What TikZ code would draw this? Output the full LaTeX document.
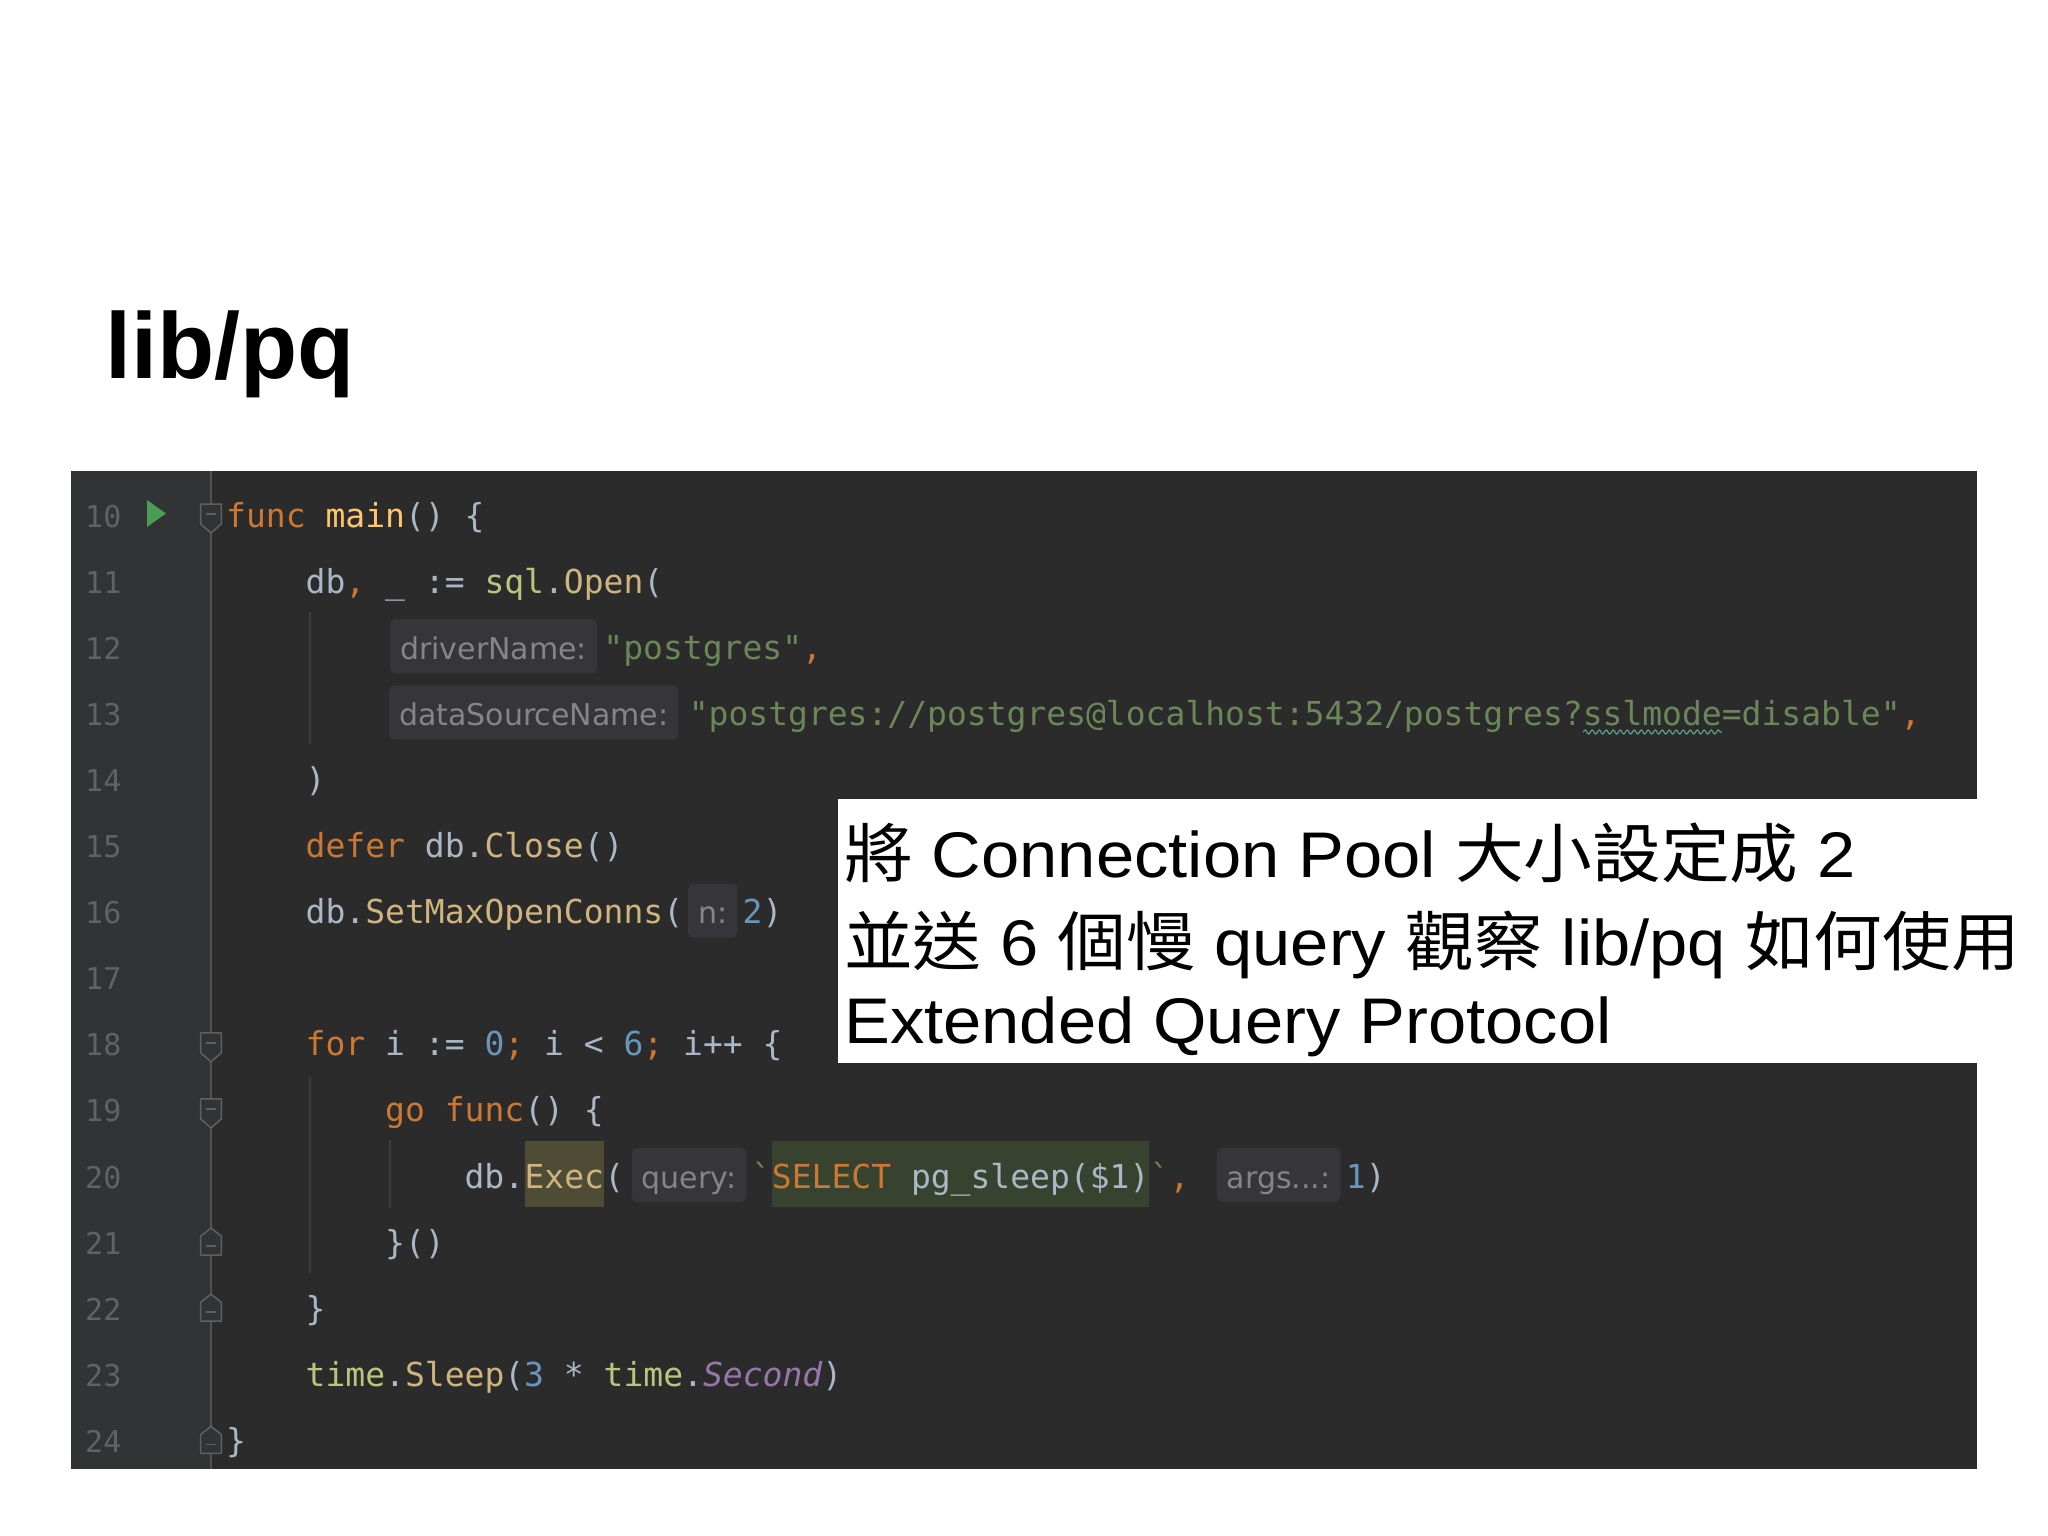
\documentclass[tikz,border=0pt]{standalone}
\usepackage{fontspec}
\usetikzlibrary{decorations.pathmorphing}
\newfontfamily\codefnt{DejaVu Sans Mono}
\newfontfamily\hintfnt{DejaVu Sans}
\newfontfamily\ovfnt{Liberation Sans}
\newfontfamily\zhfnt{Noto Sans CJK TC}
\newcommand\zh[1]{{\zhfnt #1}}
\definecolor{cbg}{HTML}{2B2B2B}
\definecolor{cgut}{HTML}{313335}
\definecolor{cgline}{HTML}{505254}
\definecolor{cguide}{HTML}{3C3C3E}
\definecolor{clnum}{HTML}{606366}
\definecolor{cdef}{HTML}{A9B7C6}
\definecolor{ckw}{HTML}{CC7832}
\definecolor{cfn}{HTML}{FFC66D}
\definecolor{cpkg}{HTML}{BAC47E}
\definecolor{cmeth}{HTML}{D0B47E}
\definecolor{cstr}{HTML}{6A8759}
\definecolor{cnum}{HTML}{6897BB}
\definecolor{cpur}{HTML}{9876AA}
\definecolor{chint}{HTML}{858585}
\definecolor{chintbg}{HTML}{36363A}
\definecolor{cexec}{HTML}{4F4C35}
\definecolor{csql}{HTML}{37432F}
\definecolor{crun}{HTML}{499C54}
\definecolor{cwave}{HTML}{5FA08A}
\definecolor{cfold}{HTML}{5E6163}
\newcommand\K[1]{\textcolor{ckw}{#1}}
\newcommand\M[1]{\textcolor{cmeth}{#1}}
\newcommand\Pk[1]{\textcolor{cpkg}{#1}}
\newcommand\N[1]{\textcolor{cnum}{#1}}
\newcommand\Sx[1]{\textcolor{cstr}{#1}}
\newcommand\mkfolddn[1]{%
  \draw[foldmark] (200.7,#1-23) -- (221.3,#1-23) -- (221.3,#1-3) -- (211,#1+6) -- (200.7,#1-3) -- cycle;
  \draw[foldmark] (206,#1-13) -- (216,#1-13);}
\newcommand\mkfoldup[1]{%
  \draw[foldmark] (200.7,#1+1) -- (221.3,#1+1) -- (221.3,#1-18) -- (211,#1-26) -- (200.7,#1-18) -- cycle;
  \draw[foldmark] (206,#1-8) -- (216,#1-8);}
\tikzset{
  code/.style={inner sep=0pt, anchor=base west, text=cdef, font=\codefnt\fontsize{33}{40}\selectfont},
  lnum/.style={inner sep=0pt, anchor=base west, text=clnum, font=\codefnt\fontsize{30}{36}\selectfont},
  hint/.style={inner xsep=10pt, inner ysep=0pt, anchor=base west, text=chint, fill=chintbg,
    rounded corners=5pt, text height=40pt, text depth=14pt, font=\hintfnt\fontsize{30}{36}\selectfont},
  hl/.style={text height=47pt, text depth=19pt},
  ovl/.style={inner sep=0pt, anchor=base west, text=black, font=\ovfnt\fontsize{64.5}{72}\selectfont},
  titlestyle/.style={inner sep=0pt, anchor=base west, text=black, font=\ovfnt\bfseries\fontsize{93.5}{100}\selectfont},
  foldmark/.style={draw=cfold, fill=cgut, line width=1.5pt, line join=round},
  guide/.style={draw=cguide, line width=1.3pt}
}
\begin{document}
\begin{tikzpicture}[x=1pt,y=-1pt]
\useasboundingbox (0,0) rectangle (2048,1536);
\fill[white] (0,0) rectangle (2048,1536);
% title
\node[titlestyle] (title) at (105,378) {lib/pq};
% editor panel
\fill[cbg] (71,471) rectangle (1977,1469);
\fill[cgut] (71,471) rectangle (211,1469);
\draw[cgline, line width=1.5pt] (211,471) -- (211,1469);
% line numbers
\foreach \n [count=\i from 0] in {10,...,24}
  \node[lnum] (ln\n) at (85,527+\i*66.1) {\n};
% run icon
\fill[crun] (147,500) -- (166,513.5) -- (147,527) -- cycle;
% fold markers
\mkfolddn{527}
\mkfolddn{1055.8}
\mkfolddn{1121.9}
\mkfoldup{1254.1}
\mkfoldup{1320.2}
\mkfoldup{1452.4}
% indent guides
\draw[guide] (310,612) -- (310,744);
\draw[guide] (310,1077) -- (310,1273);
\draw[guide] (390,1140) -- (390,1208);
% row 10
\node[code] (r10) at (226,527) {\K{func} \textcolor{cfn}{main}() \{};
% row 11
\node[code] (r11) at (305.5,593.1) {db\K{,} \_ := \Pk{sql}.\M{Open}(};
% row 12
\node[hint] (r12h) at (390,659.2) {driverName:};
\node[code] (r12s) at ([xshift=6pt]r12h.base east) {\Sx{"postgres"}\K{,}};
% row 13
\node[hint] (r13h) at (389,725.3) {dataSourceName:};
\node[code] (r13s) at (688.6,725.3) {\Sx{"postgres://postgres@localhost:5432/postgres?sslmode=disable"}\K{,}};
\draw[cwave, line width=1.2pt, decorate, decoration={snake, segment length=7pt, amplitude=2pt}] (1583,732) -- (1722,732);
% row 14
\node[code] (r14) at (305.5,791.4) {)};
% row 15
\node[code] (r15) at (305.5,857.5) {\K{defer} db.\M{Close}()};
% row 16
\node[code] (r16a) at (305.5,923.6) {db.\M{SetMaxOpenConns}(};
\node[hint] (r16h) at ([xshift=4.6pt]r16a.base east) {n:};
\node[code] (r16b) at ([xshift=5pt]r16h.base east) {\N{2})};
% row 18
\node[code] (r18) at (305.5,1055.8) {\K{for} i := \N{0}\K{;} i < \N{6}\K{;} i++ \{};
% row 19
\node[code] (r19) at (385,1121.9) {\K{go} \K{func}() \{};
% row 20
\node[code] (r20a) at (464.4,1188) {db.};
\node[code, hl, fill=cexec, text=cmeth] (r20b) at (r20a.base east) {Exec};
\node[code] (r20c) at (r20b.base east) {(};
\node[hint] (r20h) at ([xshift=7pt]r20c.base east) {query:};
\node[code, text=cstr] (r20d) at ([xshift=5pt]r20h.base east) {`};
\node[code, hl, fill=csql] (r20e) at (r20d.base east) {\K{SELECT} pg\_sleep(\$1)};
\node[code] (r20f) at (r20e.base east) {\Sx{`}\K{,}};
\node[hint] (r20g) at ([xshift=27pt]r20f.base east) {args...:};
\node[code] (r20i) at ([xshift=5pt]r20g.base east) {\N{1})};
% row 21
\node[code] (r21) at (385,1254.1) {\}()};
% row 22
\node[code] (r22) at (305.5,1320.2) {\}};
% row 23
\node[code] (r23) at (305.5,1386.3) {\Pk{time}.\M{Sleep}(\N{3} * \Pk{time}.\textcolor{cpur}{\itshape Second})};
% row 24
\node[code] (r24) at (226,1452.4) {\}};
% overlay note
\fill[white] (838,799) rectangle (1977,1063);
\node[ovl] (o1) at (844,877) {\scalebox{1.065}[1]{\zh{將} Connection Pool \zh{大小設定成} 2}};
\node[ovl] (o2) at (844,965) {\scalebox{1.065}[1]{\zh{並送} 6 \zh{個慢} query \zh{觀察} lib/pq \zh{如何使用}}};
\node[ovl] (o3) at (844,1043) {\scalebox{1.065}[1]{Extended Query Protocol}};
\end{tikzpicture}
\end{document}
